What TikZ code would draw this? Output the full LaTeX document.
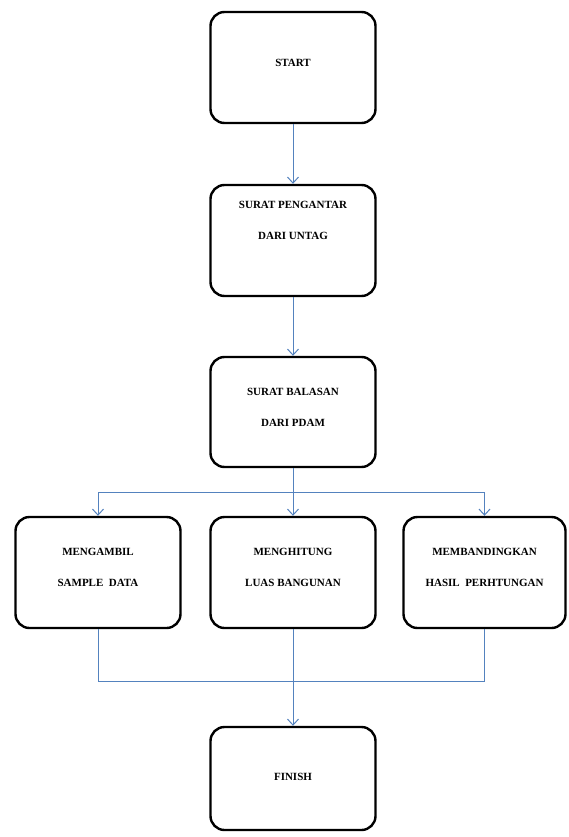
\documentclass[tikz,border=0pt]{standalone}
\usepackage{fontspec}
\setmainfont{Liberation Serif}
\usetikzlibrary{positioning,arrows.meta}
\definecolor{linkblue}{RGB}{84,130,190}

\begin{document}
\begin{tikzpicture}[x=1pt, y=-1pt,
    box/.style={rectangle, rounded corners=14pt, draw, line width=2.4pt, minimum width=165pt, minimum height=111pt, align=center, text depth=10pt, font=\fontsize{11}{31}\selectfont\bfseries},
    arrow/.style={-{Straight Barb[length=6pt,width=11pt]}, draw=linkblue, line width=1pt},
    link/.style={draw=linkblue, line width=1pt}]
    \useasboundingbox (0,0) rectangle (569,837);

    % Start
    \node[box] (start) at (293,67.5) {START};

    % Surat pengantar
    \node[box, below=59.6pt of start, text depth=40pt] (pengantar) {SURAT PENGANTAR\\DARI UNTAG};

    % Surat balasan
    \node[box, below=58.6pt of pengantar, minimum height=110pt] (balasan) {SURAT BALASAN\\DARI PDAM};

    % Three tasks
    \node[box, below=47.6pt of balasan] (hitung) {MENGHITUNG\\LUAS BANGUNAN};
    \node[box, left=27.6pt of hitung] (ambil) {MENGAMBIL\\SAMPLE~~DATA};
    \node[box, right=25.6pt of hitung, minimum width=162pt] (bandingkan) {MEMBANDINGKAN\\HASIL~~PERHTUNGAN};

    % Finish
    \node[box, below=96.6pt of hitung, minimum height=103pt, text depth=4pt] (finish) {FINISH};

    % Branch points
    \coordinate[below=24pt of balasan.south] (split);
    \coordinate[below=52pt of hitung.south] (merge);

    % Arrows
    \draw[arrow] (start) -- (pengantar);
    \draw[arrow] (pengantar) -- (balasan);
    \draw[link] (balasan) -- (split);
    \draw[arrow] (split) -- (hitung);
    \draw[arrow] (split) -| (ambil);
    \draw[arrow] (split) -| (bandingkan);
    \draw[link] (ambil) |- (merge);
    \draw[link] (bandingkan) |- (merge);
    \draw[arrow] (hitung) -- (finish);

\end{tikzpicture}
\end{document}
